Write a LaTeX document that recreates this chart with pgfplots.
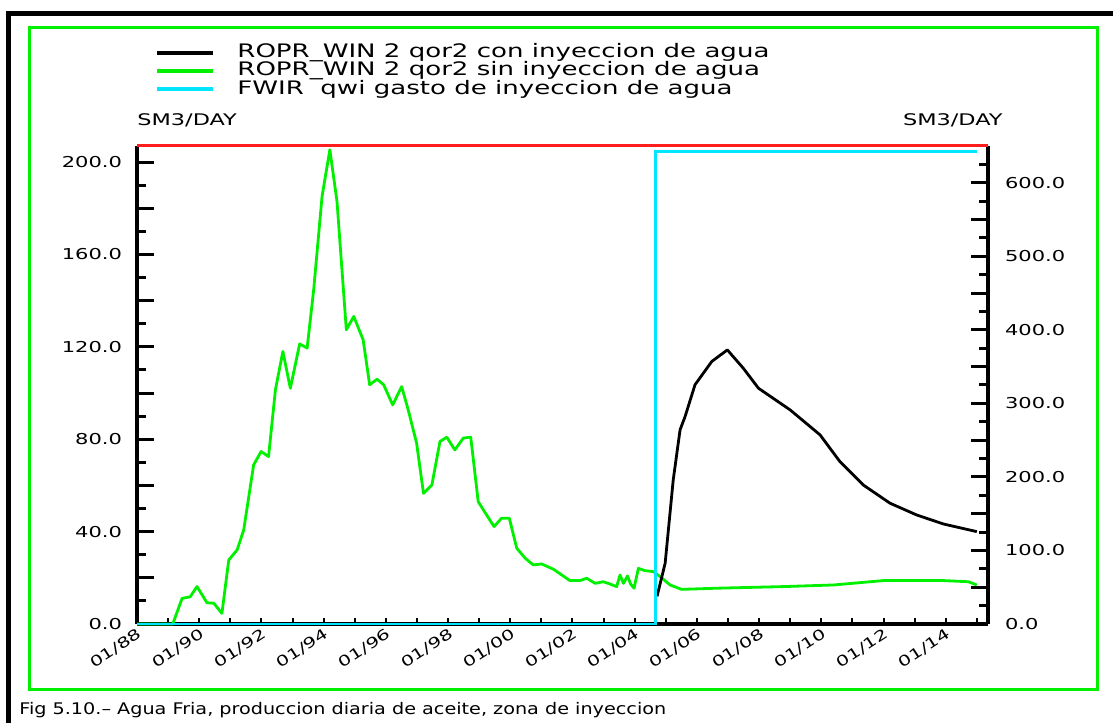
\documentclass[border=0pt]{standalone}
\usepackage{pgfplots}
\pgfplotsset{compat=1.18}
\usepackage{fontspec}
\setmainfont{DejaVu Sans}
\newfontfamily\wide[FakeStretch=1.4]{DejaVu Sans}
\newfontfamily\capfont[FakeStretch=1.2]{DejaVu Sans}
\definecolor{fgreen}{RGB}{0,240,0}
\definecolor{fcyan}{RGB}{0,230,255}
\definecolor{fred}{RGB}{255,30,30}

\pgfplotsset{
  eclipse/.style={
    at={(68.5pt,49.5pt)}, anchor=south west,
    scale only axis, width=425.5pt, height=239pt,
    xmin=1988, xmax=2015.36,
    tick align=inside,
    clip=false,
    axis line style={line width=2pt},
    tick label style={font=\wide\fontsize{7.5}{9}\selectfont},
    ytick style={black, line width=1.5pt, /pgfplots/major tick length=8.5pt, /pgfplots/minor tick length=4.5pt},
  }
}

\begin{document}
\begin{tikzpicture}
\useasboundingbox (0,0) rectangle (556.5pt,361.5pt);

% outer frame (coordinates in pixels of the 1113x723 page)
\begin{scope}[x=0.5pt, y=0.5pt]
\draw[line width=2.5pt] (8.5,0) -- (8.5,709.5) -- (1113,709.5);
\draw[fgreen, line width=1.5pt] (29,34) rectangle (1097,695);
\end{scope}

% left axis: oil rates
\begin{axis}[eclipse,
  ymin=0, ymax=207,
  axis x line*=bottom, axis y line*=left,
  xtick={1988,1990,...,2014},
  xticklabels={01/88,01/90,01/92,01/94,01/96,01/98,01/00,01/02,01/04,01/06,01/08,01/10,01/12,01/14},
  minor xtick={1989,1991,...,2015},
  xtick style={black, line width=1pt, /pgfplots/major tick length=3pt, /pgfplots/minor tick length=3pt},
  xticklabel style={font=\wide\fontsize{7.2}{9}\selectfont, rotate=33, anchor=north east, xshift=2.5pt, yshift=2pt},
  ytick={0,20,...,200},
  yticklabels={0.0,,40.0,,80.0,,120.0,,160.0,,200.0},
  minor ytick={10,30,...,190},
  yticklabel style={xshift=-4pt},
]
\addplot[fgreen, line width=1.4pt, line join=round, mark=none] coordinates {
(1988.0,0) (1989.15,0) (1989.45,11.1) (1989.71,11.8) (1989.93,16.2) (1990.25,9.2)
(1990.47,9.0) (1990.73,4.6) (1990.95,27.7) (1991.22,32.1) (1991.43,40.7)
(1991.75,68.9) (1991.99,74.7) (1992.23,72.5) (1992.45,101.4) (1992.69,118.0)
(1992.93,102.1) (1993.23,121.3) (1993.47,119.5) (1993.68,144.7) (1993.95,185.2)
(1994.2,205.4) (1994.43,183.0) (1994.73,127.4) (1994.97,133.2) (1995.27,123.1)
(1995.48,103.6) (1995.72,106.0) (1995.93,103.6) (1996.22,94.9) (1996.51,102.8)
(1996.72,92.7) (1996.99,78.3) (1997.21,56.6) (1997.48,60.2) (1997.74,79.0)
(1997.96,80.9) (1998.22,75.4) (1998.49,80.5) (1998.73,80.9) (1998.97,53.0)
(1999.24,47.2) (1999.48,42.2) (1999.72,45.8) (1999.97,45.8) (2000.21,32.8)
(2000.48,28.5) (2000.74,25.6) (2001.01,26.0) (2001.39,23.7) (2001.66,21.2)
(2001.92,18.8) (2002.24,18.8) (2002.46,19.8) (2002.73,17.6) (2002.99,18.3)
(2003.21,17.3) (2003.42,16.2) (2003.53,21.2) (2003.64,17.6) (2003.77,20.8)
(2003.87,17.3) (2003.98,15.5) (2004.12,24.1) (2004.33,23.1) (2004.6,22.7)
(2004.82,20.5) (2005.14,16.9) (2005.51,15.0) (2006.64,15.5) (2008.78,16.2)
(2010.39,16.9) (2012.0,18.8) (2013.93,18.8) (2014.73,18.3) (2015.0,16.9)
};
\addplot[black, line width=1.4pt, line join=round, mark=none] coordinates {
(2004.72,12.0) (2004.98,26.3) (2005.24,62.4) (2005.46,84.1) (2005.62,89.8)
(2005.94,103.6) (2006.48,113.7) (2006.98,118.7) (2007.49,110.8) (2007.98,102.1)
(2009.0,92.7) (2009.96,81.9) (2010.6,70.3) (2011.35,60.2) (2012.21,52.3)
(2013.07,47.2) (2013.93,43.3) (2015.0,40.0)
};
\end{axis}

% right axis: water injection rate
\begin{axis}[eclipse,
  ymin=0, ymax=650,
  axis y line*=right, axis x line=none,
  ytick={0,50,...,600},
  yticklabels={0.0,,100.0,,200.0,,300.0,,400.0,,500.0,,600.0},
  minor ytick={25,75,...,625},
  yticklabel style={anchor=west, xshift=5pt},
]
\addplot[fcyan, line width=1.4pt, mark=none] coordinates {
(1988.0,0) (2004.66,0) (2004.66,643) (2015.0,643)
};
\end{axis}

\begin{scope}[x=0.5pt, y=0.5pt]
% top line of the plot box
\draw[fred, line width=1.5pt] (137,577) -- (988,577);

% units
\node[anchor=west, inner sep=0pt, font=\wide\fontsize{8}{9}\selectfont] at (137,603) {SM3/DAY};
\node[anchor=east, inner sep=0pt, font=\wide\fontsize{8}{9}\selectfont] at (1003,603) {SM3/DAY};

% legend
\draw[black, line width=2pt] (157,670) -- (213,670);
\draw[fgreen, line width=2pt] (157,652) -- (213,652);
\draw[fcyan, line width=2pt] (157,634) -- (213,634);
\begin{scope}[every node/.style={anchor=west, inner sep=0pt, font=\wide\fontsize{9.3}{10}\selectfont}]
\node at (237,670) {ROPR\_WIN 2 qor2 con inyeccion de agua};
\node at (237,652) {ROPR\_WIN 2 qor2 sin inyeccion de agua};
\node at (237,634) {FWIR\ \ qwi gasto de inyeccion de agua};
\end{scope}

% caption
\node[anchor=west, inner sep=0pt, font=\capfont\fontsize{8}{9}\selectfont] at (19,13)
  {Fig 5.10.– Agua Fria, produccion diaria de aceite, zona de inyeccion};
\end{scope}
\end{tikzpicture}
\end{document}
